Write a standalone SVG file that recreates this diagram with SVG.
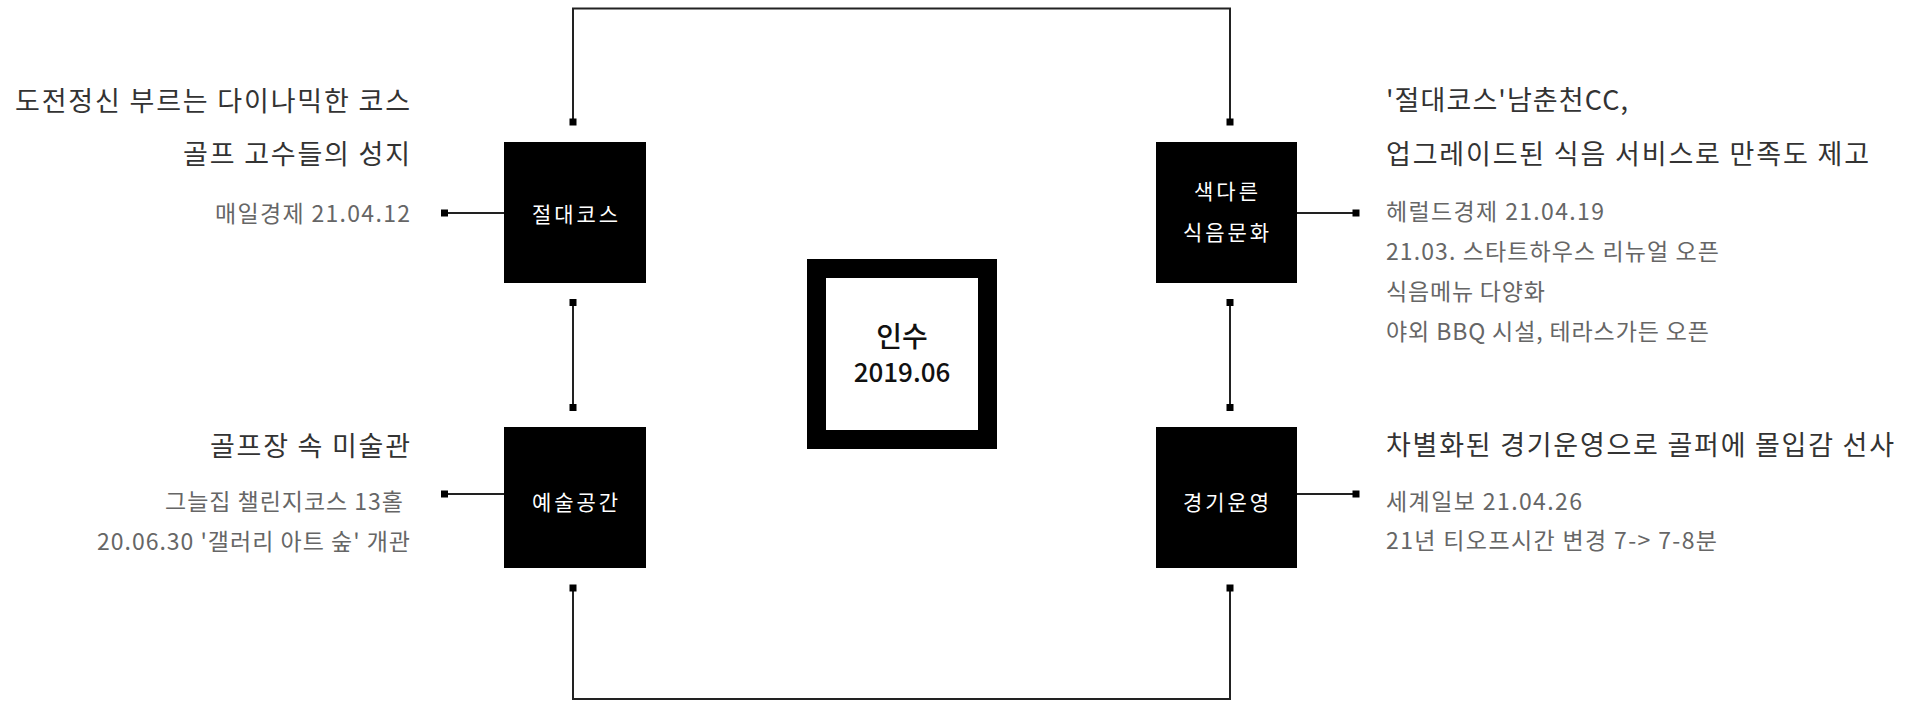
<svg xmlns="http://www.w3.org/2000/svg" width="1924" height="701" viewBox="0 0 1924 701">
<style>
text{font-family:"Noto Sans CJK KR","Noto Sans",sans-serif}
.box{fill:#000}
.lbl{fill:#fff;font-size:21px;text-anchor:middle}
.h{fill:#333;font-size:27px}
.s{fill:#666;font-size:23px}
.end{text-anchor:end}
.ln{fill:none;stroke:#222;stroke-width:2}
</style>
<defs>
<marker id="sq" markerWidth="8" markerHeight="8" refX="4" refY="4" markerUnits="userSpaceOnUse">
<rect x="0.5" y="0.5" width="7" height="7" fill="#000"/>
</marker>
</defs>
<rect width="1924" height="701" fill="#fff"/>
<g id="connectors">
<path class="ln" d="M573,122 V8.5 H1230 V122" marker-start="url(#sq)" marker-end="url(#sq)"/>
<path class="ln" d="M573,302.5 V407.5" marker-start="url(#sq)" marker-end="url(#sq)"/>
<path class="ln" d="M1230,302.5 V407.5" marker-start="url(#sq)" marker-end="url(#sq)"/>
<path class="ln" d="M573,588 V699 H1230 V588" marker-start="url(#sq)" marker-end="url(#sq)"/>
<path class="ln" d="M504,213 H444.5" marker-end="url(#sq)"/>
<path class="ln" d="M504,494 H444.5" marker-end="url(#sq)"/>
<path class="ln" d="M1297,213 H1356" marker-end="url(#sq)"/>
<path class="ln" d="M1297,494 H1356" marker-end="url(#sq)"/>
</g>
<g id="center">
<rect x="807" y="259" width="190" height="190" fill="#000"/>
<rect x="826" y="278" width="152" height="152" fill="#fff"/>
<text x="902" y="347" font-size="28" font-weight="500" fill="#111" text-anchor="middle">인수</text>
<text x="902" y="382" font-size="26" font-weight="500" fill="#111" text-anchor="middle">2019.06</text>
</g>
<g id="node-course">
<rect class="box" x="504" y="142" width="142" height="141"/>
<text class="lbl" x="575" y="222" textLength="86">절대코스</text>
<text class="h end" x="410" y="111" textLength="395">도전정신 부르는 다이나믹한 코스</text>
<text class="h end" x="410" y="164" textLength="227">골프 고수들의 성지</text>
<text class="s end" x="410" y="222" textLength="195">매일경제 21.04.12</text>
</g>
<g id="node-food">
<rect class="box" x="1156" y="142" width="141" height="141"/>
<text class="lbl" x="1226" y="199" textLength="64">색다른</text>
<text class="lbl" x="1226" y="240" textLength="86">식음문화</text>
<text class="h" x="1386" y="110" textLength="242">'절대코스'남춘천CC,</text>
<text class="h" x="1386" y="164" textLength="483">업그레이드된 식음 서비스로 만족도 제고</text>
<text class="s" x="1386" y="220" textLength="218">헤럴드경제 21.04.19</text>
<text class="s" x="1386" y="260" textLength="333">21.03. 스타트하우스 리뉴얼 오픈</text>
<text class="s" x="1386" y="300" textLength="159">식음메뉴 다양화</text>
<text class="s" x="1386" y="340" textLength="323">야외 BBQ 시설, 테라스가든 오픈</text>
</g>
<g id="node-art">
<rect class="box" x="504" y="427" width="142" height="141"/>
<text class="lbl" x="575" y="510" textLength="86">예술공간</text>
<text class="h end" x="410" y="456" textLength="200">골프장 속 미술관</text>
<text class="s end" x="403" y="510" textLength="238">그늘집 챌린지코스 13홀</text>
<text class="s end" x="410" y="550" textLength="313">20.06.30 '갤러리 아트 숲' 개관</text>
</g>
<g id="node-ops">
<rect class="box" x="1156" y="427" width="141" height="141"/>
<text class="lbl" x="1226" y="510" textLength="86">경기운영</text>
<text class="h" x="1386" y="455" textLength="508">차별화된 경기운영으로 골퍼에 몰입감 선사</text>
<text class="s" x="1386" y="510" textLength="196">세계일보 21.04.26</text>
<text class="s" x="1386" y="549" textLength="331">21년 티오프시간 변경 7-&gt; 7-8분</text>
</g>
</svg>
